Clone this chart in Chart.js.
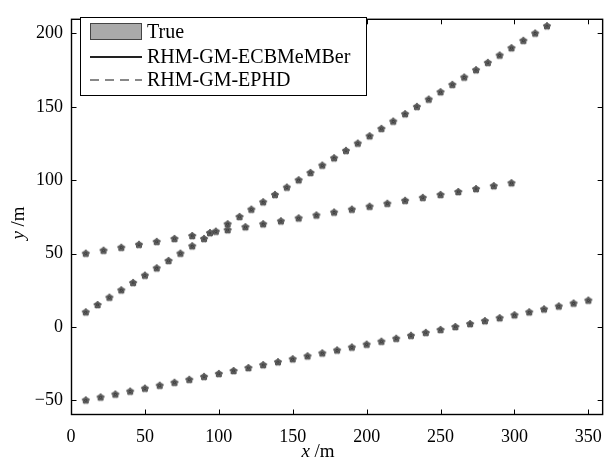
<!DOCTYPE html>
<html>
<head>
<meta charset="utf-8">
<script src="https://cdn.jsdelivr.net/npm/chart.js@4.4.1/dist/chart.umd.min.js"></script>
<style>
  html, body { margin: 0; padding: 0; background: #fff; }
  #wrap { width: 613px; height: 459px; position: relative; }
</style>
</head>
<body>
<div id="wrap"><canvas id="c"></canvas></div>
<script>
// track data, x /m and y /m
const trackAx = [10,18,26,34,42,50,58,66,74,82,90,98,106,114,122,130,138,146,154,162,
                 170,178,186,194,202,210,218,226,234,242,250,258,266,274,282,290,298,306,314,322];
const trackAy = [10,15,20,25,30,35,40,45,50,55,60,65,70,75,80,85,90,95,100,105,
                 110,115,120,125,130,135,140,145,150,155,160,165,170,175,180,185,190,195,200,205];
const trackBx = [10,22,34,46,58,70,82,94,106,118,130,142,154,166,178,190,202,214,226,238,250,262,274,286,298];
const trackBy = [50,52,54,56,58,60,62,64,66,68,70,72,74,76,78,80,82,84,86,88,90,92,94,96,98];
const trackCx = [10,20,30,40,50,60,70,80,90,100,110,120,130,140,150,160,170,180,190,200,
                 210,220,230,240,250,260,270,280,290,300,310,320,330,340,350];
const trackCy = [-50,-48,-46,-44,-42,-40,-38,-36,-34,-32,-30,-28,-26,-24,-22,-20,-18,-16,-14,-12,
                 -10,-8,-6,-4,-2,0,2,4,6,8,10,12,14,16,18];

const seriesLabels = ['True', 'RHM-GM-ECBMeMBer', 'RHM-GM-EPHD'];
const xTicks = [0, 50, 100, 150, 200, 250, 300, 350];
const yTicks = [-50, 0, 50, 100, 150, 200];

const SERIF = '"Liberation Serif", "DejaVu Serif", serif';

function pts(xs, ys) { return xs.map((x, i) => ({ x, y: ys[i] })); }
const allPts = [].concat(pts(trackAx, trackAy), pts(trackBx, trackBy), pts(trackCx, trackCy));

// filled pentagram marker
function makeStar(r, fill, edge) {
  const s = Math.ceil(r * 2 + 2);
  const cv = document.createElement('canvas');
  cv.width = s; cv.height = s;
  const g = cv.getContext('2d');
  g.translate(s / 2, s / 2);
  g.beginPath();
  for (let i = 0; i < 10; i++) {
    const rr = i % 2 ? r * 0.74 : r;
    const a = -Math.PI / 2 + i * Math.PI / 5;
    g.lineTo(rr * Math.cos(a), rr * Math.sin(a));
  }
  g.closePath();
  g.fillStyle = fill; g.fill();
  g.strokeStyle = edge; g.lineWidth = 1; g.stroke();
  return cv;
}
const starMark = makeStar(3.7, '#626262', '#4a4a4a');

// box, inward ticks, axis titles
const frame = {
  id: 'frame',
  afterDraw(chart) {
    const { ctx, chartArea: a, scales: { x, y } } = chart;
    const L = a.left + 0.5, R = a.right - 0.5, T = a.top + 0.5, B = a.bottom - 0.5;
    ctx.save();
    ctx.strokeStyle = '#000';
    ctx.lineWidth = 1;
    ctx.beginPath();
    xTicks.forEach(v => {
      const px = Math.round(x.getPixelForValue(v)) + 0.5;
      ctx.moveTo(px, B); ctx.lineTo(px, B - 5);
      ctx.moveTo(px, T); ctx.lineTo(px, T + 5);
    });
    yTicks.forEach(v => {
      const py = Math.round(y.getPixelForValue(v)) + 0.5;
      ctx.moveTo(L, py); ctx.lineTo(L + 5, py);
      ctx.moveTo(R, py); ctx.lineTo(R - 5, py);
    });
    ctx.stroke();
    ctx.lineWidth = 1.4;
    ctx.strokeRect(L, T, R - L, B - T);

    // axis titles, italic variable + upright unit
    ctx.fillStyle = '#000';
    ctx.textBaseline = 'alphabetic';
    const it = 'italic 19px ' + SERIF, up = '19px ' + SERIF;
    function title(v, unit, cx, cy) {
      ctx.font = it; const w1 = ctx.measureText(v).width;
      ctx.font = up; const w2 = ctx.measureText(unit).width;
      let sx = cx - (w1 + w2) / 2;
      ctx.font = it; ctx.textAlign = 'left'; ctx.fillText(v, sx, cy);
      ctx.font = up; ctx.fillText(unit, sx + w1, cy);
    }
    title('x', ' /m', 318, 457);
    ctx.translate(24, 223);
    ctx.rotate(-Math.PI / 2);
    title('y', ' /m', 0, 0);
    ctx.restore();
  }
};

// legend box drawn inside the axes
const legendBox = {
  id: 'legendBox',
  afterDraw(chart) {
    const ctx = chart.ctx;
    const bx = 80.5, by = 17.5, bw = 286, bh = 78;
    ctx.save();
    ctx.fillStyle = '#fff';
    ctx.fillRect(bx, by, bw, bh);
    ctx.strokeStyle = '#000';
    ctx.lineWidth = 1;
    ctx.strokeRect(bx, by, bw, bh);
    const rows = [32, 57, 80];
    chart.data.datasets.forEach((ds, i) => {
      const yy = rows[i];
      if (ds.legendKind === 'patch') {
        ctx.fillStyle = '#aaaaaa';
        ctx.fillRect(90.5, yy - 8.5, 51, 16);
        ctx.strokeStyle = '#444';
        ctx.strokeRect(90.5, yy - 8.5, 51, 16);
      } else {
        ctx.beginPath();
        ctx.strokeStyle = ds.legendColor;
        ctx.lineWidth = 2;
        ctx.setLineDash(ds.legendDash || []);
        ctx.moveTo(90, yy); ctx.lineTo(142, yy);
        ctx.stroke();
        ctx.setLineDash([]);
      }
      ctx.fillStyle = '#000';
      ctx.font = '20px ' + SERIF;
      ctx.textAlign = 'left';
      ctx.textBaseline = 'middle';
      ctx.fillText(ds.label, 147, yy + 1);
    });
    ctx.restore();
  }
};

const tickFont = { family: SERIF, size: 18 };
const minus = v => (v < 0 ? '\u2212' + Math.abs(v) : String(v));

new Chart(document.getElementById('c'), {
  type: 'scatter',
  data: {
    datasets: [
      { label: seriesLabels[0], data: allPts, legendKind: 'patch',
        pointStyle: starMark, pointRadius: 4, showLine: false, order: 3 },
      { label: seriesLabels[1], data: allPts, legendColor: '#222',
        pointStyle: 'circle', pointRadius: 1.4, pointBorderWidth: 0,
        backgroundColor: 'rgba(40,40,40,0.7)', showLine: false, order: 2 },
      { label: seriesLabels[2], data: allPts, legendColor: '#888', legendDash: [9, 6],
        pointStyle: 'circle', pointRadius: 0.8, pointBorderWidth: 0,
        backgroundColor: 'rgba(120,120,120,0.6)', showLine: false, order: 1 }
    ]
  },
  options: {
    responsive: true,
    maintainAspectRatio: false,
    animation: false,
    layout: { padding: { top: 9, right: 1, left: 0, bottom: 0 } },
    plugins: { legend: { display: false }, tooltip: { enabled: false } },
    scales: {
      x: {
        type: 'linear', min: 0, max: 360,
        grid: { display: false, drawTicks: false },
        border: { display: false },
        afterBuildTicks: s => { s.ticks = xTicks.map(v => ({ value: v })); },
        afterFit: s => { s.height = 44; },
        ticks: { font: tickFont, color: '#000', padding: 11, maxRotation: 0, callback: minus }
      },
      y: {
        type: 'linear', min: -60, max: 210,
        grid: { display: false, drawTicks: false },
        border: { display: false },
        afterBuildTicks: s => { s.ticks = yTicks.map(v => ({ value: v })); },
        afterFit: s => { s.width = 71; },
        ticks: { font: tickFont, color: '#000', padding: 8, callback: minus }
      }
    }
  },
  plugins: [frame, legendBox]
});
</script>
</body>
</html>
